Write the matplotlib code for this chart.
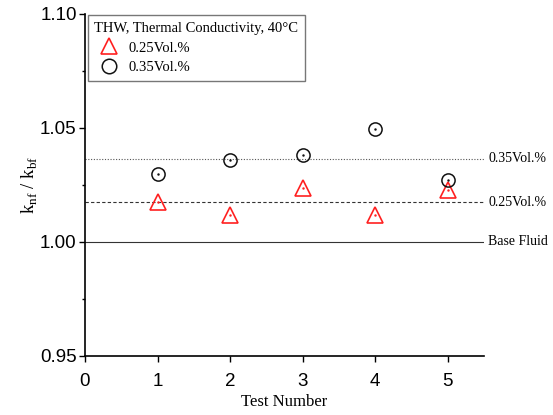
import matplotlib
matplotlib.use('Agg')
import matplotlib.pyplot as plt
import numpy as np

# data
tests = [1, 2, 3, 4, 5]
vol_025 = [1.0175, 1.012, 1.0237, 1.012, 1.023]
vol_035 = [1.030, 1.036, 1.038, 1.0496, 1.027]
mean_025 = 1.0174
mean_035 = 1.0364
base_fluid = 1.00

serif = ['Liberation Serif', 'DejaVu Serif']
sans = ['Liberation Sans', 'DejaVu Sans']

fig = plt.figure(figsize=(5.53, 4.15), dpi=100)
ax = fig.add_axes([0.1537, 0.1422, 0.7213, 0.8241])

# reference lines
ax.axhline(mean_035, color='#555555', linestyle=(0, (1, 1.5)), linewidth=0.8)
ax.axhline(mean_025, color='#333333', linestyle=(0, (3, 2)), linewidth=0.8)
ax.axhline(base_fluid, color='#333333', linestyle='-', linewidth=0.8)

# markers
ax.plot(tests, vol_025, linestyle='none', marker='^', markersize=11,
        markerfacecolor='none', markeredgecolor='#ff2020', markeredgewidth=1.2,
        label='0.25Vol.%')
ax.plot(tests, vol_035, linestyle='none', marker='o', markersize=9.5,
        markerfacecolor='none', markeredgecolor='#111111', markeredgewidth=1.1,
        label='0.35Vol.%')
ax.plot(tests, vol_025, linestyle='none', marker='.', markersize=1.5, color='#ff2020')
ax.plot(tests, vol_035, linestyle='none', marker='.', markersize=1.5, color='#111111')

# right side labels
for yv, txt in [(mean_035, '0.35Vol.%'), (mean_025, '0.25Vol.%'), (base_fluid, 'Base Fluid')]:
    ax.annotate(txt, xy=(1.0, yv), xycoords=('axes fraction', 'data'),
                xytext=(3, 0), textcoords='offset points', va='center', ha='left',
                fontsize=10, family=serif, annotation_clip=False)

ax.set_xlim(0, 5.5)
ax.set_ylim(0.95, 1.10)
ax.set_xticks([0, 1, 2, 3, 4, 5])
ax.set_yticks([0.95, 1.00, 1.05, 1.10])
ax.set_yticks([0.975, 1.025, 1.075], minor=True)
ax.yaxis.set_major_formatter(matplotlib.ticker.FormatStrFormatter('%.2f'))
ax.tick_params(axis='both', which='major', direction='out', length=4, width=1,
               labelsize=13.5)
ax.tick_params(axis='x', which='major', pad=8)
ax.tick_params(axis='y', which='major', pad=2)
ax.tick_params(axis='y', which='minor', direction='out', length=2.5, width=1)
for lab in ax.get_xticklabels() + ax.get_yticklabels():
    lab.set_family(sans)

for side in ['top', 'right']:
    ax.spines[side].set_visible(False)
for side in ['left', 'bottom']:
    ax.spines[side].set_linewidth(1.2)

ax.set_xlabel('Test Number', fontsize=12, family=serif, labelpad=3)
ax.set_ylabel(r'k$_{\mathregular{nf}}$ / k$_{\mathregular{bf}}$', fontsize=13.5,
              family=serif, labelpad=0)

leg = ax.legend(loc='upper left', bbox_to_anchor=(0.0, 1.005),
                title='THW, Thermal Conductivity, 40\u00b0C', title_fontsize=10.5,
                prop={'family': serif, 'size': 10.5}, fancybox=False, framealpha=1,
                edgecolor='#777777', borderpad=0.45, labelspacing=0.45,
                handletextpad=0.3, handlelength=2.0, borderaxespad=0.2,
                markerscale=1.1, alignment='left')
leg.get_title().set_family(serif)
leg.get_frame().set_linewidth(1.0)

fig.savefig('out.png', dpi=100)
